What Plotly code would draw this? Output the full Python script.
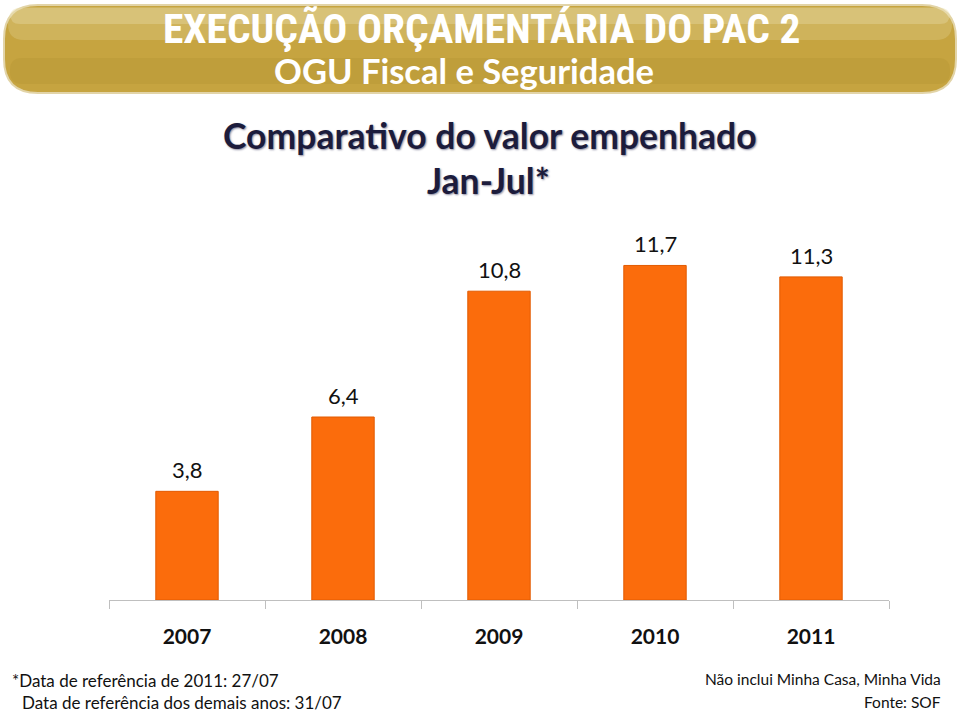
import plotly.graph_objects as go

years = ["2007", "2008", "2009", "2010", "2011"]
values = [3.8, 6.4, 10.8, 11.7, 11.3]

L, R, T, B = 109, 889, 230, 600
W, H = 960, 713

def px(x):
    return (x - L) / (R - L)

def py(y):
    return (B - y) / (B - T)

fig = go.Figure()
fig.add_trace(go.Bar(
    x=years, y=values, width=0.4,
    marker=dict(color="#FB6C0C", line=dict(color="#E25A00", width=1)),
    hoverinfo="skip",
))

ann = []
for i, v in enumerate(values):
    ann.append(dict(x=i, y=v, xref="x", yref="y", text=f"{v:.1f}".replace(".", ","),
                    yanchor="bottom", xanchor="center", yshift=6, showarrow=False,
                    font=dict(family="Lato, Calibri, sans-serif", size=22, color="#111111")))
n_data = len(ann)

# header pill
def pill(x0, x1, y0, y1, rx, ry):
    return (f"M {x0+rx},{y0} L {x1-rx},{y0} Q {x1},{y0} {x1},{y0-ry} "
            f"L {x1},{y1+ry} Q {x1},{y1} {x1-rx},{y1} L {x0+rx},{y1} "
            f"Q {x0},{y1} {x0},{y1+ry} L {x0},{y0-ry} Q {x0},{y0} {x0+rx},{y0} Z")

def pill_px(a, b, c, d, r):
    return pill(px(a), px(b), py(c), py(d), r / (R - L), r / (B - T))

shapes = [
    dict(type="path", xref="paper", yref="paper", path=pill_px(4, 956, 5, 93, 34),
         fillcolor="#C6A440", line=dict(color="#E2D4A8", width=2), layer="below"),
    dict(type="path", xref="paper", yref="paper", path=pill_px(8, 952, 7, 40, 16),
         fillcolor="#E6D69C", opacity=0.30, line=dict(width=0), layer="below"),
    dict(type="path", xref="paper", yref="paper", path=pill_px(10, 950, 8, 24, 10),
         fillcolor="#F0E4BC", opacity=0.30, line=dict(width=0), layer="below"),
    dict(type="path", xref="paper", yref="paper", path=pill_px(10, 950, 58, 84, 12),
         fillcolor="#A8882A", opacity=0.22, line=dict(width=0), layer="below"),
]

hdr_font = "Roboto Condensed, Liberation Sans Narrow, sans-serif"
ann.append(dict(text="<b>EXECUÇÃO ORÇAMENTÁRIA DO PAC 2</b>", x=px(481.5), y=py(28),
                font=dict(family=hdr_font, size=41.5, color="white")))
ann.append(dict(text="<b>OGU Fiscal e Seguridade</b>", x=px(463.5), y=py(71),
                font=dict(family="Lato, sans-serif", size=34.5, color="white")))
sub_font = dict(family="Lato, Calibri, sans-serif", size=35.5, color="#1C1C3C",
                shadow="1px 1px 2px #8A8AA0")
ann.append(dict(text="<b>Comparativo do valor empenhado</b>", x=px(490), y=py(135), font=sub_font))
ann.append(dict(text="<b>Jan-Jul*</b>", x=px(488), y=py(180), font=sub_font))
note_font = dict(family="Lato, sans-serif", size=17, color="#111111")
ann.append(dict(text="*Data de referência de 2011: 27/07", x=px(10), y=py(680), xanchor="left", font=note_font))
ann.append(dict(text="Data de referência dos demais anos: 31/07", x=px(20), y=py(702), xanchor="left", font=note_font))
rfont = dict(family="Lato, sans-serif", size=15.5, color="#111111")
ann.append(dict(text="Não inclui Minha Casa, Minha Vida", x=px(943), y=py(679), xanchor="right", font=rfont))
ann.append(dict(text="Fonte: SOF", x=px(943), y=py(702), xanchor="right", font=rfont))
for a in ann[n_data:]:
    a.setdefault("xanchor", "center")
    a.update(xref="paper", yref="paper", yanchor="middle", showarrow=False)

fig.update_layout(
    width=W, height=H,
    margin=dict(l=L, r=W - R, t=T, b=H - B, autoexpand=False),
    paper_bgcolor="white", plot_bgcolor="white",
    showlegend=False,
    shapes=shapes, annotations=ann,
    xaxis=dict(type="category", range=[-0.5, len(years) - 0.5],
               showline=True, linecolor="#BFBFBF", linewidth=1,
               ticks="outside", tickson="boundaries", ticklen=8, tickcolor="#BFBFBF",
               ticklabelstandoff=18,
               tickfont=dict(family="Lato, Calibri, sans-serif", size=21, color="#111111", weight="bold"),
               showgrid=False, fixedrange=True),
    yaxis=dict(range=[0, 12.94], visible=False, showgrid=False, fixedrange=True),
)

fig.write_html("out.html", config={"displayModeBar": False},
               post_script="document.body.style.margin='0';document.body.style.overflow='hidden';")
